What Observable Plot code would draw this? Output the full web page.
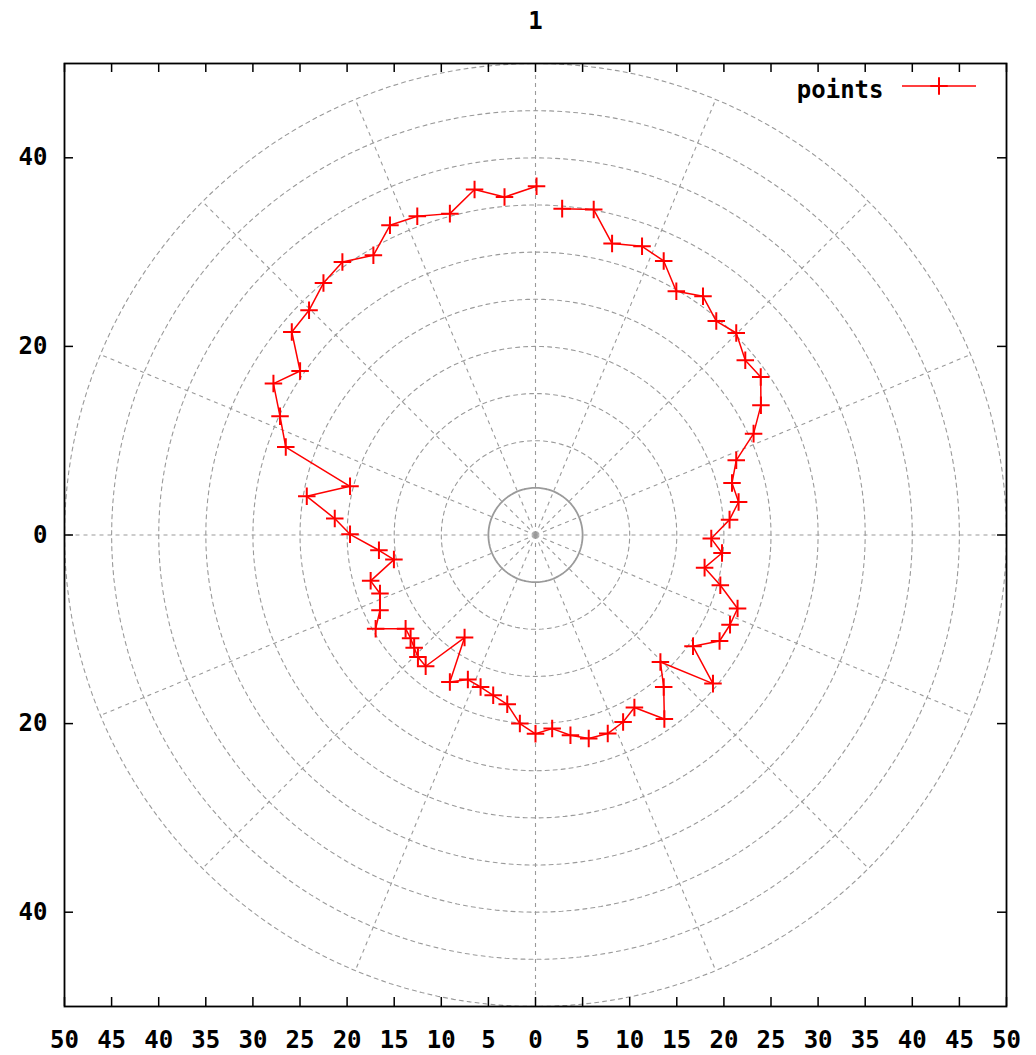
<!DOCTYPE html>
<html>
<head>
<meta charset="utf-8">
<script src="https://cdn.jsdelivr.net/npm/d3@7"></script>
<script src="https://cdn.jsdelivr.net/npm/@observablehq/plot@0.6"></script>
<style>
  body { margin: 0; background: #fff; }
</style>
</head>
<body>
<div id="chart"></div>
<script>
// ---- data ----
const chartTitle = "1";
const seriesName = "points";

const pointX = [2.83, 6.18, 8.13, 11.31, 13.61, 14.95, 17.78, 19.19, 21.31, 22.27,
  23.91, 23.93, 23.15, 21.31, 20.86, 21.56, 20.60, 18.66, 19.80, 17.95,
  19.62, 21.45, 20.65, 19.54, 16.72, 18.84, 13.26, 13.61, 13.68, 10.50,
  9.30, 7.67, 5.65, 3.71, 1.77, 0.00, -1.66, -3.00, -4.49, -5.83,
  -7.18, -9.09, -7.53, -11.66, -12.48, -12.88, -13.26, -13.79, -16.97, -16.51,
  -16.51, -17.50, -15.03, -16.62, -19.69, -21.31, -24.28, -19.69, -26.51, -27.12,
  -27.82, -24.99, -25.87, -24.04, -22.51, -20.50, -17.21, -15.45, -12.55, -9.09,
  -6.47, -3.29, 0.11];
const pointY = [34.61, 34.51, 30.90, 30.61, 29.06, 25.84, 25.31, 22.69, 21.42, 18.53,
  16.76, 13.75, 10.75, 7.92, 5.51, 3.50, 1.63, -0.38, -1.91, -3.46,
  -5.33, -7.80, -9.52, -11.24, -11.80, -15.76, -13.47, -16.12, -19.51, -18.30,
  -19.83, -21.06, -21.59, -21.24, -20.53, -21.08, -20.00, -17.95, -17.00, -16.12,
  -15.33, -15.59, -10.88, -13.92, -12.94, -11.96, -10.95, -9.93, -9.93, -7.99,
  -6.21, -4.86, -2.61, -1.62, 0.07, 1.74, 4.10, 5.16, 9.33, 12.59,
  16.06, 17.39, 21.53, 23.83, 26.72, 28.95, 29.66, 32.84, 33.80, 34.08,
  36.63, 35.84, 36.98];

// axis ticks and polar grid
const xTickValues = [-50, -45, -40, -35, -30, -25, -20, -15, -10, -5, 0, 5, 10, 15, 20, 25, 30, 35, 40, 45, 50];
const yTickValues = [-40, -20, 0, 20, 40];
const ringRadii = [5, 10, 15, 20, 25, 30, 35, 40, 45, 50];
const spokeAngles = [0, 22.5, 45, 67.5, 90, 112.5, 135, 157.5, 180, 202.5, 225, 247.5, 270, 292.5, 315, 337.5];
const gridMax = 50;
const axisDomain = [-50, 50];

// ---- derived tables ----
const pts = pointX.map((x, i) => ({x, y: pointY[i]}));
const rad = a => a * Math.PI / 180;
const ringData = ringRadii.flatMap(r =>
  d3.range(0, 361, 2).map(a => ({r, x: r * Math.cos(rad(a)), y: r * Math.sin(rad(a))}))
);

const W = 1036, H = 1055, mL = 64, mR = 30, mT = 63, mB = 49;
const frameW = W - mL - mR, frameH = H - mT - mB;
const tickLen = 9;
const gridColor = "#9a9a9a";
const markerR = 5.7;
const font = "'DejaVu Sans Mono', 'Liberation Mono', monospace";

const chart = Plot.plot({
  width: W, height: H,
  marginLeft: mL, marginRight: mR, marginTop: mT, marginBottom: mB,
  style: {fontFamily: font, fontSize: "24px", fontWeight: "bold", color: "black", background: "white", overflow: "visible"},
  x: {domain: axisDomain},
  y: {domain: axisDomain},
  marks: [
    Plot.line(ringData.filter(d => d.r !== 5), {x: "x", y: "y", z: "r", stroke: gridColor, strokeWidth: 1.1, strokeDasharray: "4,4"}),
    Plot.link(spokeAngles, {
      x1: () => 0, y1: () => 0,
      x2: a => gridMax * Math.cos(rad(a)), y2: a => gridMax * Math.sin(rad(a)),
      stroke: gridColor, strokeWidth: 1.1, strokeDasharray: "4,4"
    }),
    Plot.line(ringData.filter(d => d.r === 5), {x: "x", y: "y", z: "r", stroke: gridColor, strokeWidth: 1.8}),
    Plot.tickX(xTickValues, {x: d => d, insetTop: frameH - tickLen, stroke: "black", strokeWidth: 1.5}),
    Plot.tickX(xTickValues, {x: d => d, insetBottom: frameH - tickLen, stroke: "black", strokeWidth: 1.5}),
    Plot.tickY(yTickValues, {y: d => d, insetRight: frameW - tickLen, stroke: "black", strokeWidth: 1.5}),
    Plot.tickY(yTickValues, {y: d => d, insetLeft: frameW - tickLen, stroke: "black", strokeWidth: 1.5}),
    Plot.axisX({ticks: xTickValues, anchor: "bottom", tickSize: 0, tickPadding: 24, tickFormat: d => Math.abs(d), label: null, fontSize: 24, fontWeight: "bold"}),
    Plot.axisY({ticks: yTickValues, anchor: "left", tickSize: 0, tickPadding: 17, tickFormat: d => Math.abs(d), label: null, fontSize: 24, fontWeight: "bold"}),
    Plot.frame({stroke: "black", strokeWidth: 1.8}),
    Plot.line(pts, {x: "x", y: "y", stroke: "#ff0000", strokeWidth: 1.5}),
    Plot.dot(pts, {x: "x", y: "y", symbol: "plus", r: markerR, stroke: "#ff0000", strokeWidth: 2, fill: "none"}),
    Plot.text([chartTitle], {frameAnchor: "top", dy: -52, fontSize: 24, fontWeight: "bold", fill: "black"}),
    Plot.text([seriesName], {frameAnchor: "top-right", dx: -123, dy: 17, textAnchor: "end", fontSize: 24, fontWeight: "bold", fill: "black"})
  ]
});

// legend sample (line + marker)
const svg = d3.select(chart);
const lg = svg.append("g").attr("stroke", "#ff0000").attr("fill", "none");
lg.append("line").attr("x1", 902).attr("x2", 976).attr("y1", 86).attr("y2", 86).attr("stroke-width", 1.5);
lg.append("path").attr("transform", "translate(939,86)")
  .attr("d", d3.symbol(d3.symbolPlus, markerR * markerR * Math.PI)()).attr("stroke-width", 2);

document.getElementById("chart").appendChild(chart);
</script>
</body>
</html>
